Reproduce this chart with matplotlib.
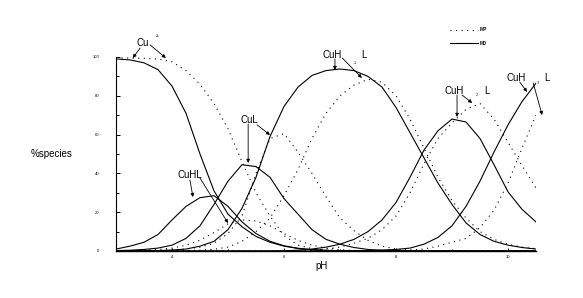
import matplotlib
matplotlib.use("Agg")
import matplotlib.pyplot as plt
from matplotlib.lines import Line2D

plt.rcParams['font.family'] = ['Liberation Sans', 'DejaVu Sans']

# pH grid (values read every 0.25 pH from the reference)
pH = [3.0, 3.25, 3.5, 3.75, 4.0, 4.25, 4.5, 4.75, 5.0, 5.25, 5.5, 5.75, 6.0, 6.25,
      6.5, 6.75, 7.0, 7.25, 7.5, 7.75, 8.0, 8.25, 8.5, 8.75, 9.0, 9.25, 9.5, 9.75,
      10.0, 10.25, 10.5]

# solid-line system
cu_solid = [99, 98.5, 97, 93.5, 85, 71, 50, 31, 19, 12.5, 7.5, 4.5, 2.5, 1.3, 0.6, 0.3,
            0.1, 0, 0, 0, 0, 0, 0, 0, 0, 0, 0, 0, 0, 0, 0]
cuhl_solid = [1, 2.5, 4.5, 8.5, 16, 23, 27.5, 28.5, 23, 15, 9, 5, 2.7, 1.4, 0.7, 0.3,
              0.1, 0, 0, 0, 0, 0, 0, 0, 0, 0, 0, 0, 0, 0, 0]
cul_solid = [0.2, 0.4, 0.8, 1.5, 3, 6.5, 13, 24, 36, 44.5, 43.5, 38, 27, 19, 11, 6,
             3.5, 1.8, 0.8, 0.3, 0.1, 0, 0, 0, 0, 0, 0, 0, 0, 0, 0]
cuh1l_solid = [0, 0, 0.1, 0.2, 0.5, 1, 2.5, 5, 11, 22, 38, 59, 74.5, 84.5, 90.5, 93,
               93.8, 93, 90, 84.5, 74, 61, 48, 35, 24, 14.5, 8.5, 5, 3, 1.8, 1]
cuh2l_solid = [0, 0, 0, 0, 0, 0, 0, 0, 0, 0, 0, 0, 0.1, 0.4, 1, 2, 3.5, 6, 10, 16, 25,
               38, 52, 62, 68, 66.5, 58, 44.5, 30.5, 21.5, 15]
cuh3l_solid = [0, 0, 0, 0, 0, 0, 0, 0, 0, 0, 0, 0, 0, 0, 0, 0, 0, 0.1, 0.3, 0.5, 0.8,
               1.5, 3.5, 7, 13, 23, 36, 51, 65, 77, 86.5]

# dotted-line system
cu_dot = [99.5, 99.5, 99.3, 99, 97.5, 93, 86, 76, 63, 46, 30, 18, 8, 3, 1.2, 0.5, 0.2,
          0, 0, 0, 0, 0, 0, 0, 0, 0, 0, 0, 0, 0, 0]
cuhl_dot = [0.1, 0.2, 0.4, 0.8, 1.5, 3, 5.5, 9.5, 14, 16, 15.5, 13, 9, 5.5, 3, 1.5, 0.7,
            0.3, 0.1, 0, 0, 0, 0, 0, 0, 0, 0, 0, 0, 0, 0]
cul_dot = [0, 0, 0.1, 0.3, 0.6, 1, 2, 4, 9, 18, 40, 58, 60.5, 51, 40, 28, 17, 10.5, 5.5,
           2.5, 1, 0.4, 0.1, 0, 0, 0, 0, 0, 0, 0, 0]
cuh1l_dot = [0, 0, 0, 0, 0.1, 0.2, 0.4, 0.9, 2, 5, 10, 17, 28.5, 42, 58, 71, 80, 85.5,
             88.5, 87, 80, 68, 53, 38, 26, 17, 10, 6, 3.5, 2, 1.2]
cuh2l_dot = [0, 0, 0, 0, 0, 0, 0, 0, 0, 0, 0, 0, 0, 0.2, 0.5, 1, 2, 4, 6.5, 11, 18, 30,
             45, 58, 66, 73, 76, 68, 56, 44, 32.5]
cuh3l_dot = [0, 0, 0, 0, 0, 0, 0, 0, 0, 0, 0, 0, 0, 0, 0, 0, 0, 0, 0, 0, 0, 0.5, 1, 2.5,
             4.5, 6.5, 12, 21, 35, 53, 70]

solid_series = [cu_solid, cuhl_solid, cul_solid, cuh1l_solid, cuh2l_solid, cuh3l_solid]
dot_series = [cu_dot, cuhl_dot, cul_dot, cuh1l_dot, cuh2l_dot, cuh3l_dot]

x_ticks = [4, 6, 8, 10]
y_ticks = [0, 20, 40, 60, 80, 100]
legend_labels = ["MP", "M0"]

fig = plt.figure(figsize=(5.83, 2.98), dpi=100)
ax = fig.add_axes([116 / 583, 1 - 251 / 298, 420 / 583, 194 / 298])

DOT = (0, (1, 4))
for s in dot_series:
    ax.plot(pH, s, color='black', lw=0.8, linestyle=DOT)
for s in solid_series:
    ax.plot(pH, s, color='black', lw=0.8)

ax.set_xlim(3.0, 10.5)
ax.set_ylim(0, 100)
for side in ['top', 'right']:
    ax.spines[side].set_visible(False)
ax.spines['left'].set_linewidth(0.8)
ax.spines['bottom'].set_linewidth(1.0)

ax.set_xticks(x_ticks)
ax.set_xticklabels([str(t) for t in x_ticks])
ax.set_yticks(y_ticks)
ax.set_yticklabels([str(t) for t in y_ticks])
ax.set_yticks([10, 30, 50, 70, 90], minor=True)
ax.set_xticks([3, 5, 7, 9], minor=True)
ax.tick_params(axis='y', which='major', direction='in', length=3, width=0.7, labelsize=3, pad=12)
ax.tick_params(axis='y', which='minor', direction='in', length=2, width=0.7)
ax.tick_params(axis='x', which='major', direction='in', length=2, width=0.7, labelsize=3, pad=3)
ax.tick_params(axis='x', which='minor', direction='in', length=1.5, width=0.7)

fig.text(52 / 583, 1 - 154 / 298, "%species", fontsize=7, ha='center', va='center')
fig.text(322 / 583, 1 - 266 / 298, "pH", fontsize=7, ha='center', va='center')

AP = dict(arrowstyle='-|>', lw=0.6, color='black', mutation_scale=5, shrinkA=0, shrinkB=0)


def arrow(x0, y0, x1, y1):
    ax.annotate('', xy=(x1, y1), xytext=(x0, y0), arrowprops=AP, annotation_clip=False)


def label(x, y, s, size=7):
    ax.text(x, y, s, fontsize=size, ha='center', va='center', clip_on=False)


# Cu2+
label(3.48, 107.2, "Cu")
label(3.75, 110.8, "2+", size=2.5)
arrow(3.43, 104.6, 3.30, 99.5)
arrow(3.61, 106.2, 3.89, 99.5)

# CuHL
label(4.32, 39.2, "CuHL")
arrow(4.32, 36.6, 4.375, 27.8)
arrow(4.50, 37.6, 5.0, 14.4)

# CuL
label(5.375, 67.5, "CuL")
arrow(5.36, 65.5, 5.36, 45.4)
arrow(5.52, 65.0, 5.75, 59.8)

# CuH-1L
label(6.86, 101, "CuH")
label(7.27, 96.9, "-1", size=2.5)
label(7.43, 101, "L")
arrow(6.91, 99, 6.91, 93.3)
arrow(7.04, 99.5, 7.39, 89.2)

# CuH-2L
label(9.04, 82.5, "CuH")
label(9.45, 80.4, "-2", size=2.5)
label(9.625, 82.5, "L")
arrow(9.09, 80.4, 9.09, 69.1)
arrow(9.18, 80.4, 9.36, 76.3)

# CuH-3L
label(10.14, 89.2, "CuH")
label(10.54, 86.6, "-3", size=2.5)
label(10.70, 89.2, "L")
arrow(10.21, 87.1, 10.34, 82.0)
arrow(10.45, 86.6, 10.61, 70.1)

handles = [Line2D([], [], color='black', lw=0.8, linestyle=DOT),
           Line2D([], [], color='black', lw=0.8)]
leg = fig.legend(handles, legend_labels, loc='center left',
                 bbox_to_anchor=(450 / 583, 1 - 36.5 / 298), frameon=False,
                 fontsize=3.5, handlelength=5.8, handletextpad=0.3,
                 labelspacing=1.7, borderpad=0, borderaxespad=0)
for t in leg.get_texts():
    t.set_fontweight('bold')

fig.savefig("out.png", dpi=100)
